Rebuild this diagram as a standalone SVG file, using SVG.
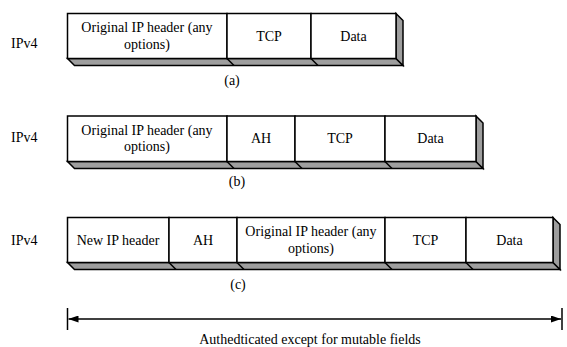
<svg xmlns="http://www.w3.org/2000/svg" width="567" height="347" viewBox="0 0 567 347">
  <defs>
    <style>
      .cell{fill:#fff;stroke:#000;stroke-width:1.5}
      .shade{fill:#9e9e9e;stroke:#000;stroke-width:1.5;stroke-linejoin:miter}
      .edge{stroke:#000;stroke-width:1.5;fill:none}
      .t{font-family:"Liberation Serif","Times New Roman",serif;font-size:14px;fill:#000;text-anchor:middle}
      .s{text-anchor:start}
    </style>
    <marker id="head" viewBox="0 0 10 7" refX="10" refY="3.5" markerWidth="10" markerHeight="7" markerUnits="userSpaceOnUse" orient="auto-start-reverse">
      <path d="M0,0 L10,3.5 L0,7 z" fill="#000"/>
    </marker>
  </defs>

  <rect width="567" height="347" fill="#fff"/>

  <!-- (a) plain IPv4 packet -->
  <g id="row-a">
    <text class="t s" x="11" y="48">IPv4</text>
    <polygon class="shade" points="67.5,58.5 74.5,65.5 403,65.5 396,58.5"/>
    <polygon class="shade" points="396,13.5 403,20.5 403,65.5 396,58.5"/>
    <line class="edge" x1="227" y1="58.5" x2="234" y2="65.5"/>
    <line class="edge" x1="311" y1="58.5" x2="318" y2="65.5"/>
    <g id="a-orig-ip">
      <rect class="cell" x="67.5" y="13.5" width="159.5" height="45"/>
      <text class="t" x="147" y="32">Original IP header (any</text>
      <text class="t" x="147" y="49">options)</text>
    </g>
    <g id="a-tcp">
      <rect class="cell" x="227" y="13.5" width="84" height="45"/>
      <text class="t" x="269" y="41">TCP</text>
    </g>
    <g id="a-data">
      <rect class="cell" x="311" y="13.5" width="85" height="45"/>
      <text class="t" x="353.5" y="41">Data</text>
    </g>
    <text class="t" x="232" y="85">(a)</text>
  </g>

  <!-- (b) transport mode AH -->
  <g id="row-b">
    <text class="t s" x="11" y="142">IPv4</text>
    <polygon class="shade" points="67.5,161.5 74.5,168.5 483,168.5 476,161.5"/>
    <polygon class="shade" points="476,116 483,123 483,168.5 476,161.5"/>
    <line class="edge" x1="227" y1="161.5" x2="234" y2="168.5"/>
    <line class="edge" x1="295" y1="161.5" x2="302" y2="168.5"/>
    <line class="edge" x1="385" y1="161.5" x2="392" y2="168.5"/>
    <g id="b-orig-ip">
      <rect class="cell" x="67.5" y="116" width="159.5" height="45.5"/>
      <text class="t" x="147" y="134.5">Original IP header (any</text>
      <text class="t" x="147" y="151">options)</text>
    </g>
    <g id="b-ah">
      <rect class="cell" x="227" y="116" width="68" height="45.5"/>
      <text class="t" x="261" y="142.5">AH</text>
    </g>
    <g id="b-tcp">
      <rect class="cell" x="295" y="116" width="90" height="45.5"/>
      <text class="t" x="340" y="142.5">TCP</text>
    </g>
    <g id="b-data">
      <rect class="cell" x="385" y="116" width="91" height="45.5"/>
      <text class="t" x="430.5" y="142.5">Data</text>
    </g>
    <text class="t" x="237" y="186">(b)</text>
  </g>

  <!-- (c) tunnel mode AH -->
  <g id="row-c">
    <text class="t s" x="11" y="245">IPv4</text>
    <polygon class="shade" points="67.5,262.5 74.5,269.5 560,269.5 553,262.5"/>
    <polygon class="shade" points="553,217.5 560,224.5 560,269.5 553,262.5"/>
    <line class="edge" x1="169" y1="262.5" x2="176" y2="269.5"/>
    <line class="edge" x1="237" y1="262.5" x2="244" y2="269.5"/>
    <line class="edge" x1="385" y1="262.5" x2="392" y2="269.5"/>
    <line class="edge" x1="466" y1="262.5" x2="473" y2="269.5"/>
    <g id="c-new-ip">
      <rect class="cell" x="67.5" y="217.5" width="101.5" height="45"/>
      <text class="t" x="118" y="245">New IP header</text>
    </g>
    <g id="c-ah">
      <rect class="cell" x="169" y="217.5" width="68" height="45"/>
      <text class="t" x="203" y="245">AH</text>
    </g>
    <g id="c-orig-ip">
      <rect class="cell" x="237" y="217.5" width="148" height="45"/>
      <text class="t" x="311" y="236">Original IP header (any</text>
      <text class="t" x="311" y="253">options)</text>
    </g>
    <g id="c-tcp">
      <rect class="cell" x="385" y="217.5" width="81" height="45"/>
      <text class="t" x="425.5" y="245">TCP</text>
    </g>
    <g id="c-data">
      <rect class="cell" x="466" y="217.5" width="87" height="45"/>
      <text class="t" x="509.5" y="245">Data</text>
    </g>
    <text class="t" x="238" y="289">(c)</text>
  </g>

  <!-- extent of authentication -->
  <g id="connectors">
    <line class="edge" x1="67.5" y1="308" x2="67.5" y2="330"/>
    <line class="edge" x1="562" y1="308" x2="562" y2="330"/>
    <line class="edge" x1="68.5" y1="319" x2="561" y2="319" marker-start="url(#head)" marker-end="url(#head)"/>
  </g>
  <text class="t" x="310" y="344">Authedticated except for mutable fields</text>
</svg>
